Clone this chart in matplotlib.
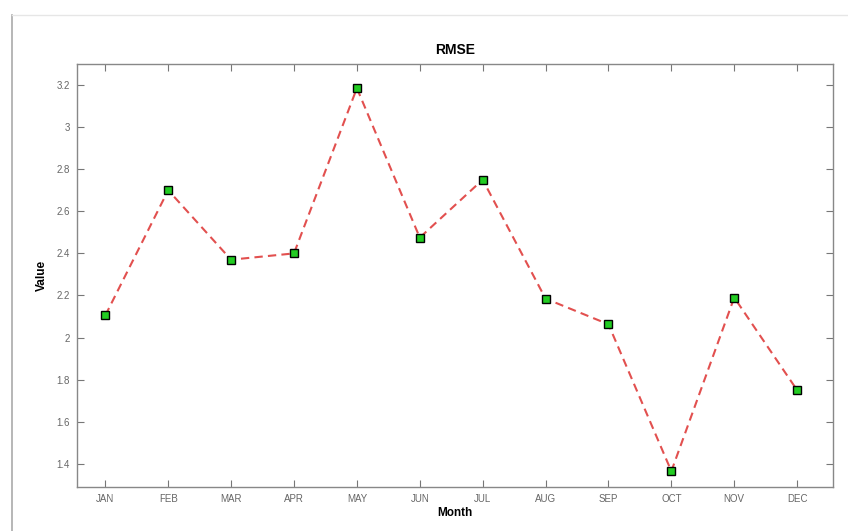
import matplotlib
matplotlib.use("Agg")
import matplotlib.pyplot as plt
from matplotlib.lines import Line2D

### Data
months = ['JAN', 'FEB', 'MAR', 'APR', 'MAY', 'JUN',
          'JUL', 'AUG', 'SEP', 'OCT', 'NOV', 'DEC']
rmse = [2.105, 2.70, 2.37, 2.40, 3.185, 2.475,
        2.75, 2.185, 2.063, 1.365, 2.19, 1.75]
yticks = [1.4, 1.6, 1.8, 2.0, 2.2, 2.4, 2.6, 2.8, 3.0, 3.2]
ylabels = ['1.4', '1.6', '1.8', '2', '2.2', '2.4', '2.6', '2.8', '3', '3.2']

plt.rcParams['font.family'] = ['Liberation Sans', 'DejaVu Sans']

### Create Figure
fig = plt.figure(figsize=(8.48, 5.31), dpi=100)
ax = fig.add_axes([0.0908, 0.0829, 0.8915, 0.7966])

x = list(range(1, len(months) + 1))
ax.plot(x, rmse, color='#e2504f', linestyle=(0, (4, 2.5)), linewidth=1.5,
        marker='s', markersize=5.5, markerfacecolor='#22cc22',
        markeredgecolor='black', markeredgewidth=1.0)

ax.set_xlim(0.55, 12.57)
ax.set_ylim(1.29, 3.3)
ax.set_xticks(x)
ax.set_xticklabels(months)
ax.set_yticks(yticks)
ax.set_yticklabels(ylabels)
ax.tick_params(direction='in', top=True, right=True, length=5,
               width=0.8, color='#777777', labelsize=7,
               labelcolor='#666666', pad=5)
for s in ax.spines.values():
    s.set_color('#888888')
    s.set_linewidth(1.0)

ax.set_title('RMSE', fontsize=10, fontweight='bold', pad=7)
ax.set_xlabel('Month', fontsize=8.5, fontweight='bold', labelpad=2)
ax.set_ylabel('Value', fontsize=8.5, fontweight='bold', labelpad=6)

### Screenshot frame edges
fig.add_artist(Line2D([0.014, 0.014], [0.0, 0.972], color='#aaaaaa',
                      linewidth=1.2, transform=fig.transFigure))
fig.add_artist(Line2D([0.014, 1.0], [0.972, 0.972], color='#e6e6e6',
                      linewidth=1.0, transform=fig.transFigure))

fig.savefig('out.png', dpi=100)
